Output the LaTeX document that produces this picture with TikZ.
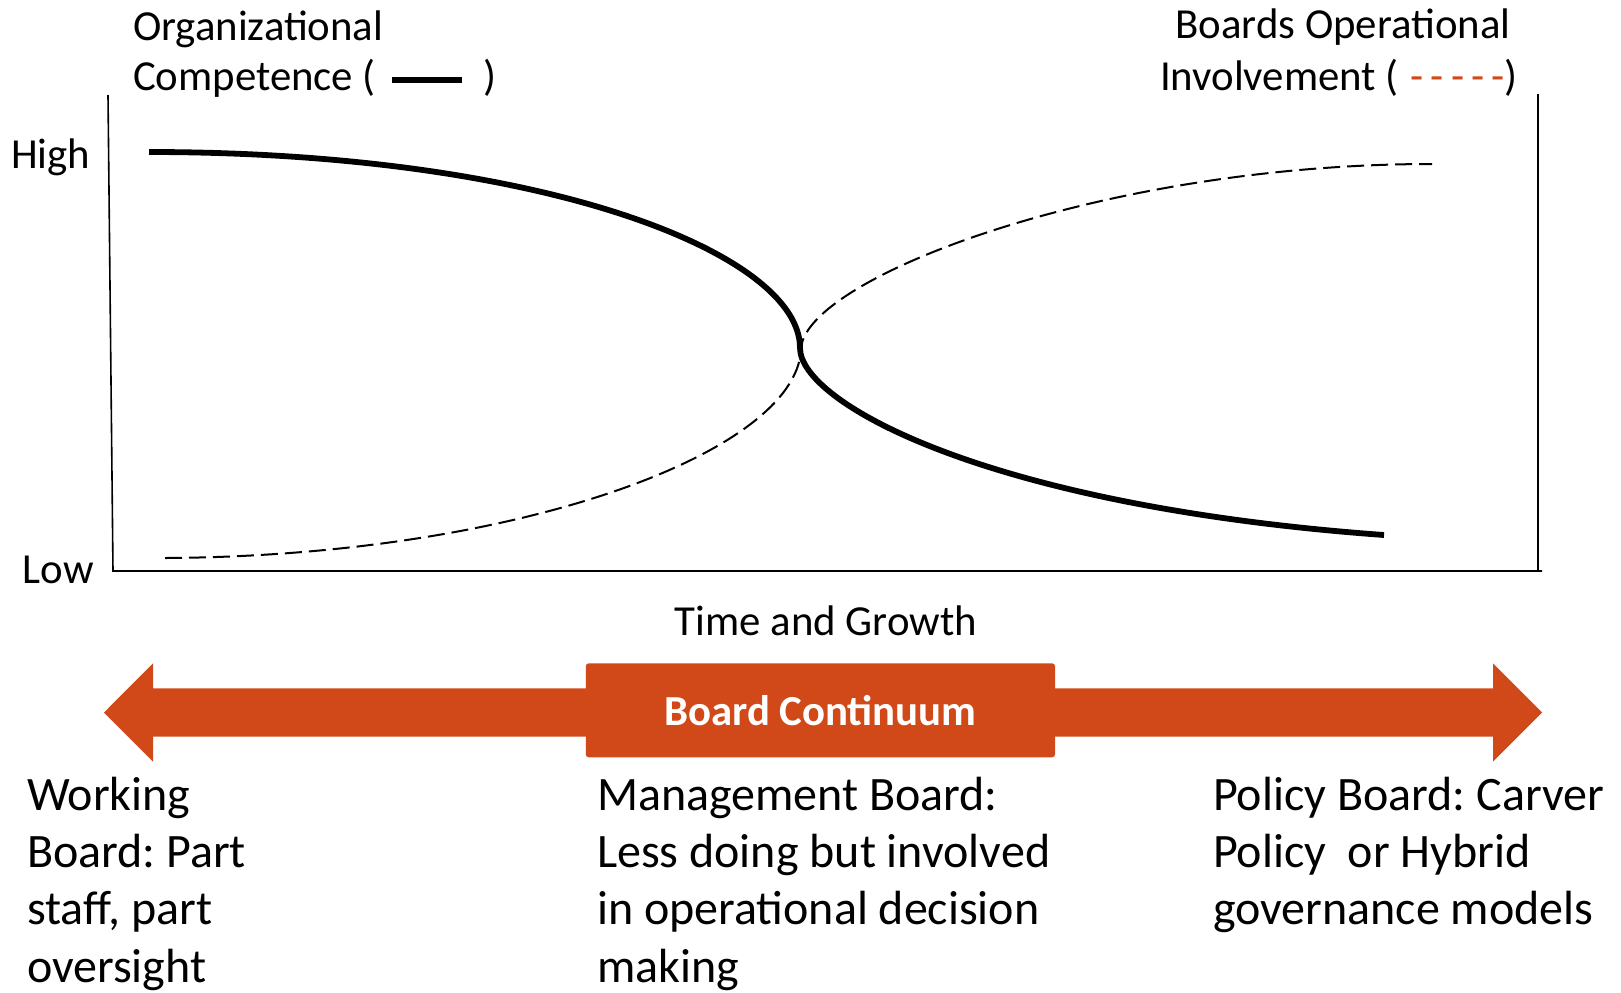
\documentclass[tikz,border=0pt]{standalone}
\usepackage{fontspec}
\setmainfont{Carlito}
\frenchspacing
\definecolor{boardorange}{RGB}{209,73,24}
\begin{document}
\begin{tikzpicture}[x=0.5pt,y=-0.5pt,
  lbl/.style={inner sep=0pt, outer sep=0pt, font=\fontsize{21.4pt}{25.5pt}\selectfont},
  big/.style={inner sep=0pt, outer sep=0pt, anchor=base west, font=\fontsize{24pt}{28.75pt}\selectfont},
  axisline/.style={line width=0.8pt, black},
  competence/.style={line width=2.9pt, black},
  involvement/.style={line width=1pt, black, dash pattern=on 8.5pt off 3.5pt},
  continuum/.style={fill=boardorange, rounded corners=1.5pt, minimum width=234.65pt, minimum height=47pt,
     inner sep=0pt, text=white, font=\fontsize{21.4pt}{25.5pt}\selectfont\bfseries}
  ]
\useasboundingbox (0,0) rectangle (1621,992);

% legends
\node[lbl, anchor=base west] (orgA) at (133,40) {Organizational};
\node[lbl, anchor=base west] (orgB) at (133,90) {Competence (\hspace{8pt}\rule[3.5pt]{35pt}{3pt}\hspace{11pt})};
\node[lbl, anchor=base] (boA) at (1343,38) {Boards Operational};
\node[lbl, anchor=base west] (boB) at (1160,90) {Involvement (\hspace{6pt}\textcolor{boardorange}{-\kern3.6pt-\kern3.6pt-\kern3.6pt-\kern3.6pt-})};

% axes
\node[lbl, anchor=base west] (high) at (11,168) {High};
\node[lbl, anchor=base west] (low) at (23,583) {Low};
\coordinate (ytop) at (108,95);
\coordinate (origin) at (113,571);
\coordinate (xend) at (1542,571);
\coordinate (rtop) at (1538,94);
\coordinate (rbot) at (1538,571);
\draw[axisline] (ytop) -- (origin) -- (xend);
\draw[axisline] (rtop) -- (rbot);

% curves
\draw[competence] (149,152) .. controls (549,152) and (800,255) .. (800,348)
   .. controls (800,402) and (984,506) .. (1384,535);
\draw[involvement] (165,558) .. controls (520,556) and (795,452) .. (801,350)
   .. controls (801,280) and (1100,164) .. (1432,164);

\node[lbl, anchor=base] (time) at (826,635) {Time and Growth};

% continuum arrow
\fill[boardorange] (104,712.5) -- (153,663.3) -- (153,688.3) -- (1493,688.3) -- (1493,663.3)
   -- (1542,712.5) -- (1493,761.7) -- (1493,736.5) -- (153,736.5) -- (153,761.7) -- cycle;
\node[continuum] (cont) at (820.4,710.3) {Board Continuum};

% descriptions
\node[big] (w1) at (27,810) {Working};
\node[big] (w2) at (27,867) {Board: Part};
\node[big] (w3) at (27,924) {staff, part};
\node[big] (w4) at (27,982) {oversight};

\node[big] (m1) at (597,810) {Management Board:};
\node[big] (m2) at (597,867) {Less doing but involved};
\node[big] (m3) at (597,924) {in operational decision};
\node[big] (m4) at (597,982) {making};

\node[big] (p1) at (1213,810) {Policy Board: Carver};
\node[big] (p2) at (1213,867) {Policy~ or Hybrid};
\node[big] (p3) at (1213,924) {governance models};
\end{tikzpicture}
\end{document}
